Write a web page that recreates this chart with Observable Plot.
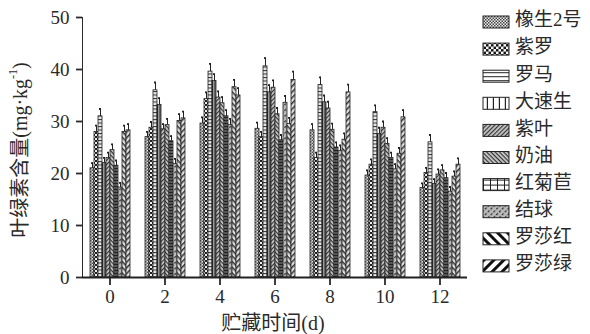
<!DOCTYPE html>
<html>
<head>
<meta charset="utf-8">
<script src="https://cdn.jsdelivr.net/npm/d3@7"></script>
<script src="https://cdn.jsdelivr.net/npm/@observablehq/plot@0.6"></script>
<style>
  html, body { margin: 0; padding: 0; background: #fff; }
  #wrap { position: relative; width: 590px; height: 334px; overflow: hidden; }
  #legend { position: absolute; left: 476px; top: 0px; }
  #chart { position: absolute; left: 0; top: 0; }
</style>
</head>
<body>
<div id="wrap"><div id="chart"></div><svg id="legend" width="114" height="290"></svg></div>
<script>
// Categories
const days = ["0", "2", "4", "6", "8", "10", "12"];
const series = ["橡生2号", "紫罗", "罗马", "大速生", "紫叶", "奶油", "红菊苣", "结球", "罗莎红", "罗莎绿"];

// Chlorophyll content (mg·kg-1) per storage day, one value per cultivar (series order)
const day0  = [21.0, 28.0, 31.0, 22.0, 23.0, 24.5, 21.5, 17.3, 28.0, 28.3];
const day2  = [27.0, 28.8, 36.0, 33.2, 28.5, 29.3, 26.2, 21.8, 30.1, 30.6];
const day4  = [29.6, 34.3, 39.6, 37.8, 34.6, 33.5, 31.0, 29.3, 36.6, 35.0];
const day6  = [28.6, 27.0, 40.6, 35.6, 36.5, 31.4, 26.4, 33.6, 29.5, 38.0];
const day8  = [28.3, 23.0, 37.0, 33.7, 32.5, 28.4, 25.0, 24.3, 26.5, 35.6];
const day10 = [19.6, 21.7, 31.8, 27.6, 28.8, 25.7, 23.0, 20.8, 23.8, 30.8];
const day12 = [17.2, 20.1, 26.0, 18.0, 19.8, 20.6, 19.1, 16.5, 19.4, 21.7];

// Error bar half-lengths (estimated)
const err0  = [1.0, 1.2, 1.4, 1.0, 1.0, 1.1, 1.0, 0.9, 1.2, 1.2];
const err2  = [1.0, 1.1, 1.5, 1.3, 1.0, 1.2, 1.0, 1.0, 1.3, 1.3];
const err4  = [1.2, 1.3, 1.5, 1.3, 1.2, 1.2, 1.2, 1.2, 1.4, 1.4];
const err6  = [1.2, 1.0, 1.6, 1.4, 1.4, 1.2, 1.0, 1.3, 1.2, 1.6];
const err8  = [1.2, 1.0, 1.5, 1.3, 1.3, 1.2, 1.0, 1.1, 1.2, 1.5];
const err10 = [1.0, 1.0, 1.3, 1.2, 1.2, 1.1, 1.0, 1.0, 1.1, 1.4];
const err12 = [0.9, 1.0, 1.4, 0.9, 1.0, 1.0, 1.0, 0.9, 1.0, 1.2];

const yTicks = [0, 10, 20, 30, 40, 50];

const values = [day0, day2, day4, day6, day8, day10, day12];
const errors = [err0, err2, err4, err6, err8, err10, err12];
const data = [];
days.forEach((d, i) => series.forEach((s, j) => data.push({day: d, series: s, v: values[i][j], e: errors[i][j]})));

const FONT = "'Liberation Serif', 'Noto Sans CJK SC', serif";

const chart = Plot.plot({
  width: 475,
  height: 334,
  marginLeft: 79,
  marginRight: 5,
  marginTop: 17,
  marginBottom: 57,
  style: {fontFamily: FONT, fontSize: "19px", color: "#2a2a2a", background: "#fff"},
  fx: {domain: days, padding: 0, axis: "bottom", tickSize: 8, tickPadding: 4, label: null},
  x: {domain: series, paddingInner: 0, paddingOuter: 0.55, axis: null},
  y: {domain: [0, 50], ticks: yTicks, tickSize: 6, tickPadding: 7, label: null, line: true},
  color: {domain: series, range: series.map((_, i) => `url(#b${i})`)},
  marks: [
    Plot.barY(data, {fx: "day", x: "series", y: "v", fill: "series", stroke: "#222", strokeWidth: 0.8}),
    Plot.ruleX(data, {fx: "day", x: "series", y1: "v", y2: d => d.v + d.e, stroke: "#222", strokeWidth: 1}),
    Plot.tickY(data, {fx: "day", x: "series", y: d => d.v + d.e, stroke: "#222", insetLeft: 1, insetRight: 1}),
    Plot.ruleY([0], {stroke: "#222", strokeWidth: 2})
  ]
});
document.getElementById("chart").appendChild(chart);

const svg = d3.select(chart);
svg.selectAll('g[aria-label$="tick"], g[aria-label$="line"]').attr("stroke-width", 1.8).attr("stroke", "#222");

// Patterns
const defs = svg.insert("defs", ":first-child");
function stripe(id, size, angle, sw, bg, fg, frac) {
  const p = defs.append("pattern").attr("id", id).attr("patternUnits", "userSpaceOnUse")
    .attr("width", size).attr("height", size).attr("patternTransform", `rotate(${angle})`);
  p.append("rect").attr("width", size).attr("height", size).attr("fill", bg);
  p.append("rect").attr("width", size * (frac || 1)).attr("height", sw).attr("fill", fg);
}
function checker(id, size, bg, fg) {
  const p = defs.append("pattern").attr("id", id).attr("patternUnits", "userSpaceOnUse")
    .attr("width", size * 2).attr("height", size * 2);
  p.append("rect").attr("width", size * 2).attr("height", size * 2).attr("fill", bg);
  p.append("rect").attr("width", size).attr("height", size).attr("fill", fg);
  p.append("rect").attr("x", size).attr("y", size).attr("width", size).attr("height", size).attr("fill", fg);
}
function grid(id, w, h, bg, fg) {
  const p = defs.append("pattern").attr("id", id).attr("patternUnits", "userSpaceOnUse").attr("width", w).attr("height", h);
  p.append("rect").attr("width", w).attr("height", h).attr("fill", bg);
  p.append("rect").attr("width", w).attr("height", 1).attr("fill", fg);
  p.append("rect").attr("width", 1).attr("height", h).attr("fill", fg);
}
// legend patterns
checker("p0", 1.5, "#eee", "#444");
checker("p1", 2.5, "#fff", "#111");
stripe("p2", 4, 0, 1, "#fff", "#222");
stripe("p3", 6, 90, 1.2, "#fff", "#222");
stripe("p4", 3, -45, 1.2, "#ccc", "#333");
stripe("p5", 3, 45, 1.2, "#ccc", "#333");
grid("p6", 7, 5, "#fff", "#222");
stripe("p7", 4, -45, 1.3, "#bbb", "#333", 0.6);
stripe("p8", 7, 45, 3, "#fff", "#111");
stripe("p9", 7, -45, 3, "#fff", "#111");
// bar patterns (finer, for narrow bars)
checker("b0", 1.5, "#ddd", "#555");
checker("b1", 2, "#eee", "#222");
stripe("b2", 3.5, 0, 1, "#e8e8e8", "#333");
stripe("b3", 2.5, 90, 1, "#999", "#222");
stripe("b4", 3, -45, 1.2, "#ccc", "#333");
stripe("b5", 3, 45, 1.2, "#ccc", "#333");
grid("b6", 2.5, 3, "#888", "#222");
stripe("b7", 4, -45, 1.3, "#bbb", "#333", 0.6);
stripe("b8", 4, 45, 1.5, "#e0e0e0", "#333");
stripe("b9", 4, -45, 1.5, "#e0e0e0", "#333");

// Axis titles
svg.append("text")
  .attr("transform", "translate(22,150) rotate(-90)")
  .attr("text-anchor", "middle").attr("dominant-baseline", "middle")
  .attr("font-family", FONT).attr("font-size", 20).attr("fill", "#2a2a2a")
  .call(t => {
    t.append("tspan").text("叶绿素含量(mg·kg");
    t.append("tspan").attr("font-size", 12).attr("dy", -8).text("-1");
    t.append("tspan").attr("dy", 8).text(")");
  });
svg.append("text")
  .attr("x", 273).attr("y", 325)
  .attr("text-anchor", "middle").attr("dominant-baseline", "middle")
  .attr("font-family", FONT).attr("font-size", 20).attr("fill", "#2a2a2a")
  .text("贮藏时间(d)");

// Legend
const leg = d3.select("#legend");
const step = 27.1;
series.forEach((s, i) => {
  const g = leg.append("g").attr("transform", `translate(0,${22 + i * step})`);
  g.append("rect").attr("x", 7).attr("y", -6).attr("width", 26).attr("height", 12)
    .attr("fill", `url(#p${i})`).attr("stroke", "#222").attr("stroke-width", 1);
  g.append("text").attr("x", 39).attr("y", 0).attr("dominant-baseline", "middle")
    .attr("font-family", FONT).attr("font-size", 19).attr("fill", "#2a2a2a").text(s);
});
</script>
</body>
</html>
